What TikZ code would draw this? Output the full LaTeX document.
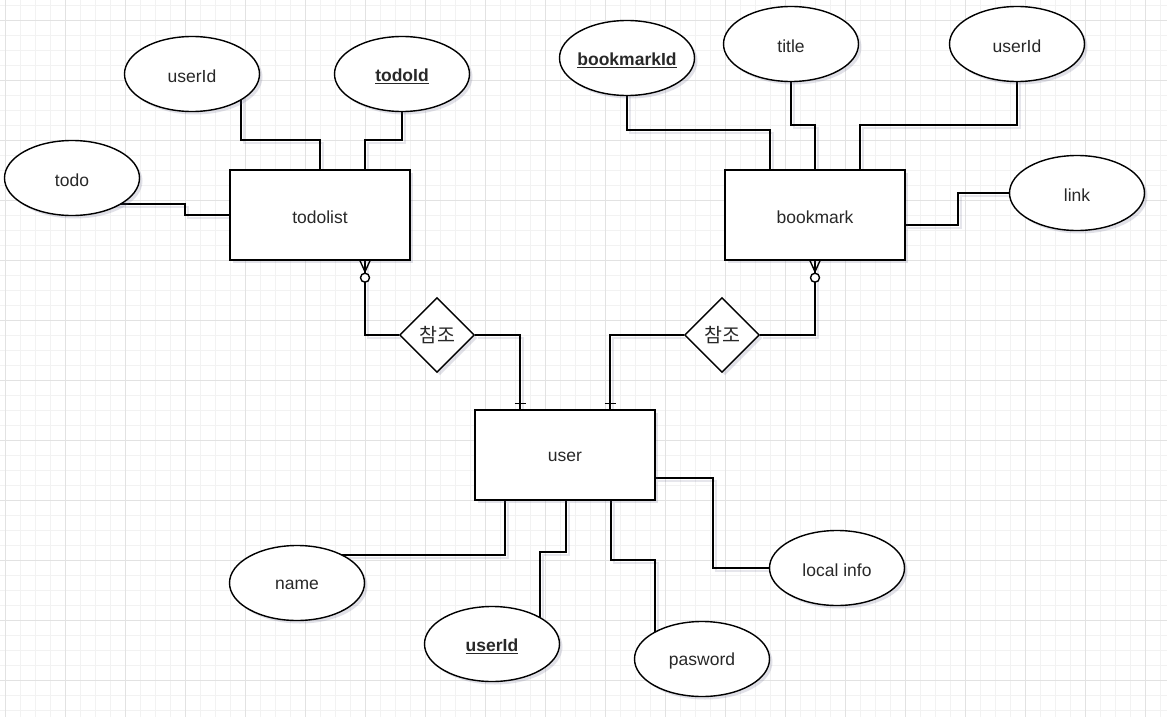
\documentclass[tikz,border=0pt]{standalone}
\usepackage{fontspec}
\setmainfont{Liberation Sans}
\newfontfamily\krfont{Noto Sans CJK KR}
\usetikzlibrary{shapes.geometric,shadows,calc}
\definecolor{gridminor}{RGB}{242,242,242}
\definecolor{gridmajor}{RGB}{226,226,226}
\definecolor{txt}{RGB}{40,40,40}
\definecolor{shd}{RGB}{90,90,130}
\pgfdeclarelayer{gridlayer}
\pgfdeclarelayer{background}
\pgfsetlayers{gridlayer,background,main}
\begin{document}
\begin{tikzpicture}[x=1pt,y=-1pt,
  shdw/.style={drop shadow={shadow xshift=3pt,shadow yshift=-3pt,opacity=0.18,fill=shd}},
  ent/.style={draw,line width=1.4pt,fill=white,minimum width=180pt,minimum height=90pt,
    font=\fontsize{17.5}{21}\selectfont,text=txt,shdw,
    label={[lab,yshift=-2pt]center:#1}},
  attr/.style={ellipse,draw,line width=1.4pt,fill=white,minimum width=135pt,minimum height=75pt,
    inner sep=0pt,shdw,label={[lab,yshift=-2pt]center:#1}},
  lab/.style={font=\fontsize{17.5}{21}\selectfont,text=txt,inner sep=0pt},
  rel/.style={diamond,draw,line width=1.4pt,fill=white,minimum width=75pt,minimum height=75pt,
    inner sep=0pt,font=\krfont\fontsize{19.5}{22}\selectfont,text=txt,shdw},
  conn/.style={line width=1.5pt,
    preaction={draw=shd,opacity=0.15,line width=2pt,transform canvas={xshift=2.5pt,yshift=-2.5pt}}},
  ermark/.style={line width=1.4pt}
]
\useasboundingbox (0,0) rectangle (1167,717);
\begin{pgfonlayer}{gridlayer}
\fill[white] (0,0) rectangle (1167,717);
\foreach \x in {5,20,...,1166} \draw[gridminor,line width=0.8pt] (\x,0) -- (\x,717);
\foreach \y in {5,20,...,716} \draw[gridminor,line width=0.8pt] (0,\y) -- (1167,\y);
\foreach \x in {5,65,...,1166} \draw[gridmajor,line width=0.8pt] (\x,0) -- (\x,717);
\foreach \y in {20,80,...,716} \draw[gridmajor,line width=0.8pt] (0,\y) -- (1167,\y);
\end{pgfonlayer}

% entities
\node[ent=todolist] (todolist) at (320,215) {};
\node[ent=bookmark] (bookmark) at (815,215) {};
\node[ent=user] (user) at (565,455) {};

% attributes
\node[attr=userId] (tuid) at (192,74) {};
\node[attr={\underline{\textbf{todoId}}}] (tid) at (402,74) {};
\node[attr=todo] (todo) at (72,178) {};
\node[attr={\underline{\textbf{bookmarkId}}}] (bid) at (627,58) {};
\node[attr=title] (btitle) at (791,44) {};
\node[attr=userId] (buid) at (1017,44) {};
\node[attr=link] (blink) at (1077,193) {};
\node[attr=name] (uname) at (297,583) {};
\node[attr={\underline{\textbf{userId}}}] (uid) at (492,644) {};
\node[attr=pasword] (upw) at (702,659) {};
\node[attr={local info}] (uloc) at (837,568) {};

% relationships
\node[rel] (dL) at (437,335) {참조};
\node[rel] (dR) at (722,335) {참조};

\coordinate (tS) at ([xshift=45pt]todolist.south);
\coordinate (bS) at (bookmark.south);
\coordinate (uL) at ([xshift=-45pt]user.north);
\coordinate (uR) at ([xshift=45pt]user.north);

\begin{pgfonlayer}{background}
% attribute connectors
\draw[conn] ($(tuid.center)+(49,0)$) |- (280,140) -| (todolist.north);
\draw[conn] (tid.center) |- (385,140) -| ([xshift=45pt]todolist.north);
\draw[conn] ($(todo.center)+(0,26)$) -| (185,210) |- (todolist.west);
\draw[conn] (bid.center) |- (700,130) -| ([xshift=-45pt]bookmark.north);
\draw[conn] (btitle.center) |- (800,125) -| (bookmark.north);
\draw[conn] (buid.center) |- (900,125) -| ([xshift=45pt]bookmark.north);
\draw[conn] (blink.center) -| (958,200) |- ([yshift=-10pt]bookmark.east);
\draw[conn] ([xshift=-60pt]user.south) |- ($(uname.center)+(0,-28)$);
\draw[conn] ([xshift=1pt]user.south) |- (550,552) -| ($(uid.center)+(48,0)$);
\draw[conn] ([xshift=46pt]user.south) |- (640,560) -| ($(upw.center)+(-47,0)$);
\draw[conn] ([yshift=-23pt]user.east) -| (713,520) |- (uloc.center);
% relationship connectors
\draw[conn] (tS) |- (dL.west);
\draw[conn] (dL.east) -| (uL);
\draw[conn] (bS) |- (dR.east);
\draw[conn] (dR.west) -| (uR);
\end{pgfonlayer}

% ER markers: zero-or-many at entities
\foreach \c in {tS,bS}{
  \draw[ermark] ([xshift=-5pt]\c) -- ([yshift=-11pt]\c) -- ([xshift=5pt]\c);
  \draw[ermark,fill=white] ([yshift=-17pt]\c) circle (4.5pt);
}
% one marks at user
\foreach \c in {uL,uR}{
  \draw[ermark] ([xshift=-5.5pt,yshift=6pt]\c) -- ([xshift=5.5pt,yshift=6pt]\c);
}
\end{tikzpicture}
\end{document}
